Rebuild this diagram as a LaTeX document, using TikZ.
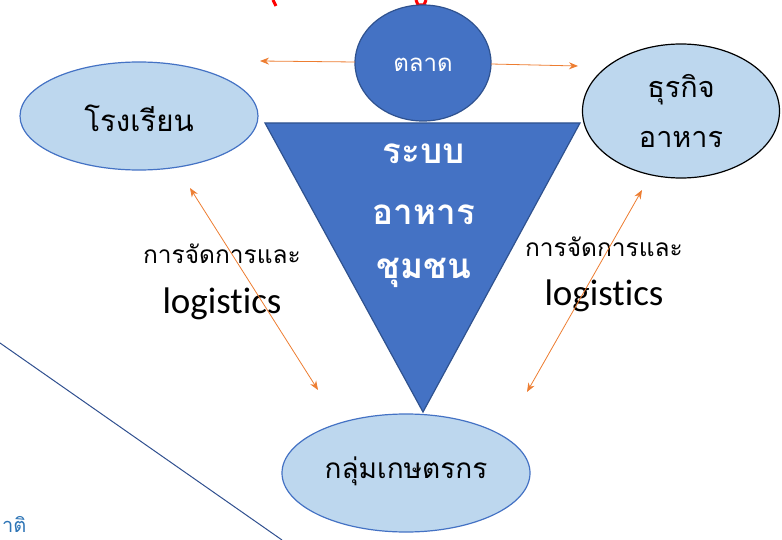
\documentclass[tikz,border=0pt]{standalone}
\usepackage{fontspec}
\newfontfamily\thaifont[Script=Thai]{Loma}
\newfontfamily\latfont[Ligatures=NoCommon]{Carlito}
\usetikzlibrary{arrows.meta,shapes.geometric}
\definecolor{mblue}{HTML}{4472C4}
\definecolor{mborder}{HTML}{2F528F}
\definecolor{lblue}{HTML}{BDD7EE}
\definecolor{morange}{HTML}{ED7D31}
\definecolor{dline}{HTML}{2F4F8F}
\definecolor{tblue}{HTML}{2E75B6}
\tikzset{
  lightell/.style={ellipse, fill=lblue, draw=mblue, line width=1.2pt, inner sep=0pt},
  arr/.style={morange, line width=0.8pt, -{Stealth[length=9pt,width=7pt]}},
  darr/.style={morange, line width=0.8pt, {Stealth[length=9pt,width=7pt]}-{Stealth[length=9pt,width=7pt]}},
  thtxt/.style={font=\thaifont\fontsize{24.5}{28}\selectfont, text=black},
  lgtxt/.style={font=\latfont\fontsize{37}{42}\selectfont, text=black},
  tritxt/.style={font=\thaifont\bfseries\fontsize{35}{40}\selectfont, text=white}
}
\begin{document}
\begin{tikzpicture}[x=1pt,y=-1pt]
\useasboundingbox (0,0) rectangle (782,540);
% background line and cut text
\draw[dline, line width=1pt] (0,343) -- (282,540);
\node[anchor=west, text=tblue, font=\thaifont\fontsize{20}{24}\selectfont, inner sep=0pt] (cut) at (2,524) {าติ};
\draw[red, line width=3pt] (273,0) -- (276,6);
\draw[red, line width=3pt] (416,0) -- (418,5) -- (424,5) -- (426,0);
% side ellipses
\node[lightell, minimum width=238pt, minimum height=108pt] (school) at (139,116) {};
\node[thtxt, font=\thaifont\fontsize{29.5}{32}\selectfont] at (139,118) {โรงเรียน};
\node[lightell, draw=black, minimum width=197pt, minimum height=134pt] (biz) at (681,111) {};
\node[thtxt, font=\thaifont\fontsize{28.8}{32}\selectfont] at (681,90) {ธุรกิจ};
\node[thtxt, font=\thaifont\fontsize{28.8}{32}\selectfont] at (681,139) {อาหาร};
\node[lightell, minimum width=248pt, minimum height=118pt] (farm) at (406,473) {};
\node[thtxt, font=\thaifont\fontsize{28}{32}\selectfont] at (406,471) {กลุ่มเกษตรกร};
% market
\node[ellipse, fill=mblue, draw=mborder, line width=1.2pt, minimum width=136pt, minimum height=116pt, inner sep=0pt] (market) at (423,63) {};
\node[text=white, font=\thaifont\fontsize{24}{28}\selectfont] at (423,65) {ตลาด};
% triangle
\coordinate (tl) at (265,123);
\coordinate (tr) at (580,123);
\coordinate (tb) at (423,412);
\filldraw[fill=mblue, draw=mborder, line width=1.2pt] (tl) -- (tr) -- (tb) -- cycle;
\node[tritxt] (t1) at (424,154) {ระบบ};
\node[tritxt] (t2) at (424,215) {อาหาร};
\node[tritxt] (t3) at (424,273) {ชุมชน};
% arrows
\coordinate (aL) at (260,61);
\coordinate (aR) at (578,66);
\coordinate (m1) at (355,62);
\coordinate (m2) at (491,64);
\draw[arr] (m1) -- (aL);
\draw[arr] (m2) -- (aR);
\coordinate (l1) at (190,188);
\coordinate (l2) at (318,390);
\coordinate (r1) at (642,190);
\coordinate (r2) at (527,392);
% labels
\node[thtxt] (lab1) at (222,254) {การจัดการและ};
\node[lgtxt] (lab2) at (222,304) {logistics};
\node[thtxt] (lab3) at (604,247) {การจัดการและ};
\node[lgtxt] (lab4) at (604,296) {logistics};
\draw[darr] (l1) -- (l2);
\draw[darr] (r1) -- (r2);
\end{tikzpicture}
\end{document}
